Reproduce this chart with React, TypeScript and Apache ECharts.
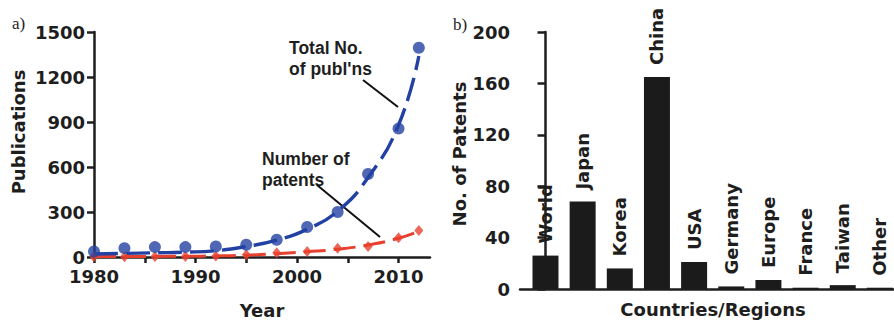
import React, { useEffect, useRef } from "react";
import * as echarts from "echarts";

// ---- Panel a) data ----
const years = [1980, 1983, 1986, 1989, 1992, 1995, 1998, 2001, 2004, 2007, 2010, 2012];
const publications = [37, 59, 66, 66, 70, 82, 115, 200, 300, 553, 856, 1395];
const patents = [2, 2, 3, 4, 6, 15, 28, 37, 59, 70, 129, 177];
// dashed trend curves at the same years
const publicationsTrend = [20, 24, 28, 32, 42, 70, 112, 185, 305, 530, 880, 1340];
const patentsTrend = [3, 3, 4, 5, 7, 12, 22, 35, 52, 80, 125, 172];
const yearTicks = [1980, 1985, 1990, 1995, 2000, 2005, 2010];
const yearLabels = [1980, 1990, 2000, 2010];

// ---- Panel b) data ----
const regions = ["World", "Japan", "Korea", "China", "USA", "Germany", "Europe", "France", "Taiwan", "Other"];
const regionPatents = [26, 68, 16, 165, 21, 2, 7, 1, 3, 1];

const FONT = "DejaVu Sans";
const INK = "#1e1e1e";
const BLUE = "#2341a3";
const RED = "#e8402e";

export default function App() {
  const ref = useRef<HTMLDivElement>(null);

  useEffect(() => {
    if (!ref.current) return;
    const chart = echarts.init(ref.current, null, { renderer: "svg" });
    const tickLabel = {
      fontFamily: FONT,
      fontWeight: "bold",
      fontSize: 18,
      color: INK,
      formatter: (v: number) => String(v),
    };
    const axisLine = { show: true, lineStyle: { color: INK, width: 2.5 } };

    chart.setOption({
      animation: false,
      backgroundColor: "#ffffff",
      grid: [
        { left: 94, top: 32, width: 336, height: 225 },
        { left: 520, top: 32, right: 0, bottom: 31 },
      ],
      xAxis: [
        {
          gridIndex: 0,
          type: "value",
          min: 1980,
          max: 2013.1,
          interval: 5,
          axisLine: { ...axisLine, onZero: false },
          axisTick: { show: true, length: 6, lineStyle: { color: INK, width: 2.5 }, customValues: yearTicks },
          axisLabel: {
            ...tickLabel,
            margin: 10,
            customValues: yearLabels,
            formatter: (v: number) => (v % 10 === 0 ? String(v) : ""),
          },
          splitLine: { show: false },
        },
        {
          gridIndex: 1,
          type: "value",
          min: -0.686,
          max: 9.38,
          axisLine: { ...axisLine, onZero: false },
          axisTick: { show: false },
          axisLabel: { show: false },
          splitLine: { show: false },
        },
      ],
      yAxis: [
        {
          gridIndex: 0,
          type: "value",
          min: 0,
          max: 1500,
          interval: 300,
          axisLine,
          axisTick: { show: true, length: 7, lineStyle: { color: INK, width: 2.5 } },
          axisLabel: { ...tickLabel, margin: 9 },
          splitLine: { show: false },
        },
        {
          gridIndex: 1,
          type: "value",
          min: 0,
          max: 200,
          interval: 40,
          axisLine,
          axisTick: { show: true, length: 8, lineStyle: { color: INK, width: 2.5 } },
          axisLabel: { ...tickLabel, margin: 10 },
          splitLine: { show: false },
        },
      ],
      series: [
        {
          type: "line",
          xAxisIndex: 0,
          yAxisIndex: 0,
          data: years.map((y, i) => [y, patentsTrend[i]]),
          smooth: true,
          showSymbol: false,
          lineStyle: { color: RED, width: 3, type: [22, 8] },
          z: 2,
        },
        {
          type: "line",
          xAxisIndex: 0,
          yAxisIndex: 0,
          data: years.map((y, i) => [y, publicationsTrend[i]]),
          smooth: true,
          showSymbol: false,
          lineStyle: { color: BLUE, width: 3.4, type: [24, 8] },
          z: 2,
        },
        {
          type: "scatter",
          xAxisIndex: 0,
          yAxisIndex: 0,
          data: years.map((y, i) => [y, patents[i]]),
          symbol: "diamond",
          symbolSize: [9, 11],
          itemStyle: { color: RED },
          z: 3,
        },
        {
          type: "scatter",
          xAxisIndex: 0,
          yAxisIndex: 0,
          data: years.map((y, i) => [y, publications[i]]),
          symbol: "circle",
          symbolSize: 12,
          itemStyle: { color: BLUE },
          z: 4,
        },
        {
          type: "bar",
          xAxisIndex: 1,
          yAxisIndex: 1,
          data: regions.map((_, i) => [i, regionPatents[i]]),
          barWidth: 26,
          itemStyle: { color: "#1b1b1b" },
          label: {
            show: true,
            position: "top",
            distance: 12,
            rotate: 90,
            align: "left",
            verticalAlign: "middle",
            fontFamily: FONT,
            fontWeight: "bold",
            fontSize: 18,
            color: INK,
            formatter: (p: any) => regions[p.dataIndex],
          },
        },
      ],
      graphic: [
        { type: "text", x: 12, y: 15, style: { text: "a)", font: '17px "Liberation Serif", serif', fill: INK } },
        { type: "text", x: 453, y: 16, style: { text: "b)", font: '17px "Liberation Serif", serif', fill: INK } },
        {
          type: "text",
          x: 18,
          y: 132,
          rotation: Math.PI / 2,
          style: { text: "Publications", font: `bold 18px "${FONT}"`, fill: INK, align: "center", verticalAlign: "middle" },
        },
        {
          type: "text",
          x: 262,
          y: 310,
          style: { text: "Year", font: `bold 18px "${FONT}"`, fill: INK, align: "center", verticalAlign: "middle" },
        },
        {
          type: "text",
          x: 459,
          y: 154,
          rotation: Math.PI / 2,
          style: { text: "No. of Patents", font: `bold 18px "${FONT}"`, fill: INK, align: "center", verticalAlign: "middle" },
        },
        {
          type: "text",
          x: 713,
          y: 309,
          style: { text: "Countries/Regions", font: `bold 18px "${FONT}"`, fill: INK, align: "center", verticalAlign: "middle" },
        },
        {
          type: "text",
          x: 289,
          y: 37,
          style: {
            text: "Total No.\nof publ'ns",
            font: 'bold 17.5px "Liberation Sans"',
            lineHeight: 21,
            fill: INK,
            align: "left",
            verticalAlign: "top",
          },
        },
        {
          type: "text",
          x: 262,
          y: 148,
          style: {
            text: "Number of\npatents",
            font: 'bold 17.5px "Liberation Sans"',
            lineHeight: 21,
            fill: INK,
            align: "left",
            verticalAlign: "top",
          },
        },
        { type: "line", shape: { x1: 363, y1: 80, x2: 398, y2: 107 }, style: { stroke: "#111", lineWidth: 2 } },
        { type: "line", shape: { x1: 317, y1: 185, x2: 380, y2: 237 }, style: { stroke: "#111", lineWidth: 2 } },
      ],
    });

    return () => chart.dispose();
  }, []);

  return <div ref={ref} style={{ width: 894, height: 320, position: "absolute", left: 0, top: 0 }} />;
}
